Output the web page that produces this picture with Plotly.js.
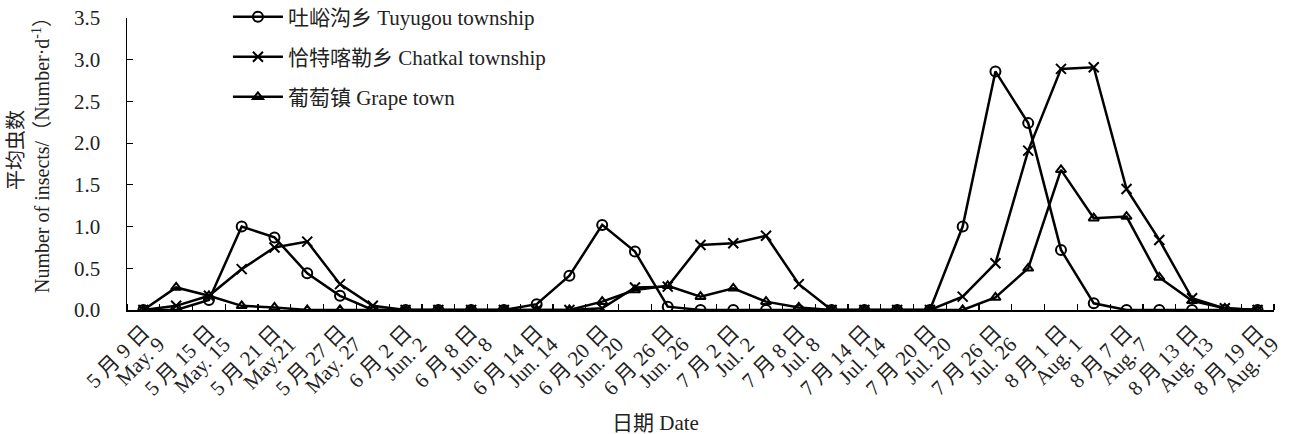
<!DOCTYPE html>
<html>
<head>
<meta charset="utf-8">
<script src="https://cdn.plot.ly/plotly-3.0.1.min.js"></script>
<style>html,body{margin:0;padding:0;background:#fff;}#chart{width:1289px;height:434px;}</style>
</head>
<body>
<div id="chart"></div>
<script>
// Sampling dates (every 3 days)
const dates = ["5-9","5-12","5-15","5-18","5-21","5-24","5-27","5-30","6-2","6-5","6-8","6-11","6-14","6-17","6-20","6-23","6-26","6-29","7-2","7-5","7-8","7-11","7-14","7-17","7-20","7-23","7-26","7-29","8-1","8-4","8-7","8-10","8-13","8-16","8-19"];
// Tick labels (every 6 days): Chinese line and English line
const tickLabelsCN = ["5 月 9 日","5 月 15 日","5 月 21 日","5 月 27 日","6 月 2 日","6 月 8 日","6 月 14 日","6 月 20 日","6 月 26 日","7 月 2 日","7 月 8 日","7 月 14 日","7 月 20 日","7 月 26 日","8 月 1 日","8 月 7 日","8 月 13 日","8 月 19 日"];
const tickLabelsEN = ["May. 9","May. 15","May.21","May. 27","Jun. 2","Jun. 8","Jun. 14","Jun. 20","Jun. 26","Jul. 2","Jul. 8","Jul. 14","Jul. 20","Jul. 26","Aug. 1","Aug. 7","Aug. 13","Aug. 19"];
const seriesNames = ["吐峪沟乡 Tuyugou township","恰特喀勒乡 Chatkal township","葡萄镇 Grape town"];
const tuyugou = [0,0,0.12,1.00,0.87,0.44,0.17,0,0,0,0,0,0.07,0.41,1.02,0.70,0.04,0,0,0,0,0,0,0,0,1.00,2.86,2.24,0.72,0.08,0,0,0,0,0];
const chatkal = [0,0.05,0.17,0.49,0.75,0.82,0.31,0.05,0,0,0,0,0,0,0.02,0.27,0.28,0.78,0.80,0.89,0.31,0,0,0,0,0.16,0.56,1.91,2.89,2.91,1.45,0.84,0.14,0.02,0];
const grape   = [0,0.27,0.17,0.05,0.03,0,0,0,0,0,0,0,0,0,0.10,0.24,0.29,0.16,0.26,0.10,0.03,0,0,0,0,0,0.15,0.50,1.68,1.10,1.12,0.39,0.11,0.02,0];

const xIdx = dates.map((d, i) => i);
const tickVals = xIdx.filter(i => i % 2 === 0);
const minorVals = [];
for (let i = 0; i <= dates.length; i++) minorVals.push(i - 0.5);

const FONT = "'Liberation Serif', 'Times New Roman', 'Noto Sans CJK SC', serif";
const mk = (name, y, symbol, size, leg) => ({
  x: xIdx, y: y, name: name, type: 'scatter', mode: 'lines+markers',
  customdata: dates,
  line: {color: '#000', width: 2.5},
  marker: {symbol: symbol, size: size, color: '#000', line: {color: '#000', width: 2}},
  legend: leg
});
const traces = [
  // carrier for the second (English) row of date labels; draws nothing
  {x: xIdx, y: grape, xaxis: 'x2', yaxis: 'y', type: 'scatter', mode: 'none', showlegend: false, hoverinfo: 'skip'},
  mk(seriesNames[0], tuyugou, 'circle-open', 10, 'legend'),
  mk(seriesNames[1], chatkal, 'x-thin-open', 10, 'legend2'),
  mk(seriesNames[2], grape, 'triangle-up-open', 9, 'legend3')
];
const legendBase = (y) => ({
  x: 0.088, xanchor: 'left', y: y, yanchor: 'middle',
  bgcolor: 'rgba(0,0,0,0)', borderwidth: 0, itemwidth: 50,
  font: {family: FONT, size: 21, color: '#222'}
});
const tickFont = {family: FONT, size: 21, color: '#222'};
const layout = {
  width: 1289, height: 434,
  margin: {l: 127, r: 15, t: 18, b: 124, autoexpand: false},
  paper_bgcolor: '#fff', plot_bgcolor: '#fff',
  font: {family: FONT, size: 21, color: '#222'},
  showlegend: true,
  legend: legendBase(1.003),
  legend2: legendBase(0.866),
  legend3: legendBase(0.729),
  xaxis: {
    range: [-0.5, dates.length - 0.5],
    tickmode: 'array', tickvals: tickVals, ticktext: tickLabelsCN,
    tickangle: -45, ticks: '', showgrid: false, zeroline: false,
    ticklabelstandoff: 0, ticklabelshift: 0,
    showline: true, linecolor: '#000', linewidth: 1.5,
    tickfont: tickFont,
    minor: {tickmode: 'array', tickvals: minorVals, ticks: 'inside', ticklen: 6, tickcolor: '#000', tickwidth: 1.2, showgrid: false}
  },
  xaxis2: {
    overlaying: 'x', anchor: 'y', side: 'bottom',
    range: [-0.5, dates.length - 0.5],
    tickmode: 'array', tickvals: tickVals, ticktext: tickLabelsEN,
    tickangle: -45, ticks: '', showgrid: false, zeroline: false, showline: false,
    ticklabelstandoff: 17, ticklabelshift: 15,
    tickfont: tickFont
  },
  yaxis: {
    range: [0, 3.5], dtick: 0.5, tick0: 0, tickformat: '.1f',
    ticks: 'inside', ticklen: 6, tickcolor: '#000', tickwidth: 1.2,
    ticklabelstandoff: 21,
    showgrid: false, zeroline: false,
    showline: true, linecolor: '#000', linewidth: 1.5,
    tickfont: tickFont
  },
  annotations: [
    {text: '日期 Date', xref: 'paper', yref: 'paper', x: 0.461, y: -0.387, xanchor: 'center', yanchor: 'middle', showarrow: false, font: {family: FONT, size: 21, color: '#222'}},
    {text: '平均虫数<br>Number of insects/（Number·d<sup>-1</sup>）', xref: 'paper', yref: 'paper', x: -0.0854, y: 0.548, xanchor: 'center', yanchor: 'middle', textangle: -90, showarrow: false, font: {family: FONT, size: 20, color: '#222'}}
  ]
};
Plotly.newPlot('chart', traces, layout, {displayModeBar: false, staticPlot: true});
</script>
</body>
</html>
